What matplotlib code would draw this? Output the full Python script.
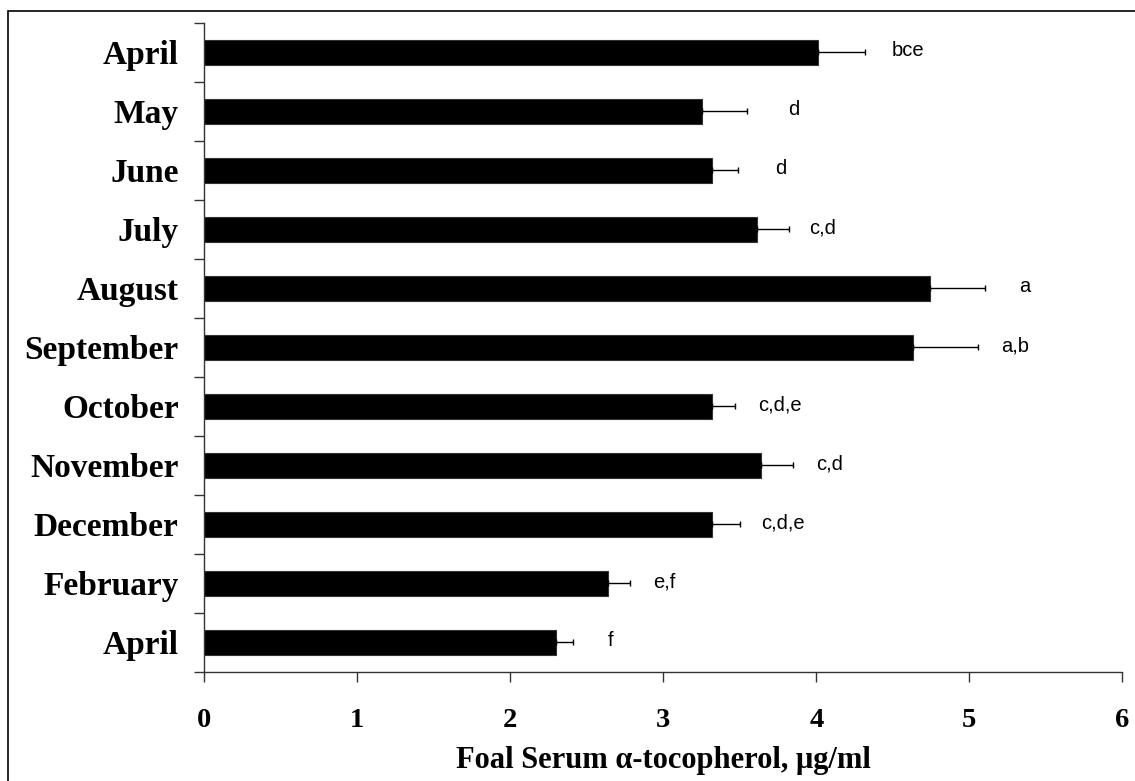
import matplotlib
matplotlib.use("Agg")
import matplotlib.pyplot as plt
from matplotlib.patches import Rectangle

months = ["April", "May", "June", "July", "August", "September", "October",
          "November", "December", "February", "April"]
values = [4.01, 3.25, 3.32, 3.61, 4.74, 4.63, 3.32, 3.64, 3.32, 2.64, 2.30]
errors = [0.31, 0.30, 0.17, 0.21, 0.36, 0.43, 0.15, 0.21, 0.18, 0.145, 0.11]
letters = ["bce", "d", "d", "c,d", "a", "a,b", "c,d,e", "c,d", "c,d,e", "e,f", "f"]
letter_x = [4.495, 3.817, 3.732, 3.954, 5.324, 5.205, 3.62, 3.997, 3.638, 2.935, 2.635]

fig = plt.figure(figsize=(11.35, 7.81), dpi=100)
ax = fig.add_axes([0.18, 0.1396, 0.9888 - 0.18, 0.9706 - 0.1396])

pos = list(range(len(months)))
ax.barh(pos, values, height=0.42, color="black", edgecolor="#333333", linewidth=0.8,
        zorder=2)
ax.errorbar(values, pos, xerr=[[0] * len(errors), errors], fmt="none",
            ecolor="black", elinewidth=1.0, capsize=2.5, capthick=1.0, zorder=3)
for y, x, t in zip(pos, letter_x, letters):
    ax.text(x, y - 0.03, t, ha="left", va="center", fontsize=14.5,
            family="Liberation Sans", color="black")

ax.set_xlim(0, 6)
ax.set_ylim(len(months) - 0.5, -0.5)
ax.set_xticks(range(0, 7))
ax.set_xticklabels([str(i) for i in range(0, 7)], fontsize=20.5,
                   family="Liberation Serif", fontweight="bold")
ax.tick_params(axis="x", direction="out", length=7.2, width=1, pad=19, color="#333333")

ax.set_yticks([i - 0.5 for i in range(len(months) + 1)])
ax.set_yticklabels([])
ax.tick_params(axis="y", which="major", direction="out", length=7.2, width=1,
               color="#333333")
ax.set_yticks(pos, minor=True)
ax.set_yticklabels(months, minor=True, fontsize=24, family="Liberation Serif",
                   fontweight="bold")
ax.tick_params(axis="y", which="minor", length=0, pad=18.5)

for s in ["top", "right"]:
    ax.spines[s].set_visible(False)
for s in ["left", "bottom"]:
    ax.spines[s].set_linewidth(1)
    ax.spines[s].set_color("#333333")

ax.set_xlabel("Foal Serum α-tocopherol, μg/ml", fontsize=22,
              family="Liberation Serif", fontweight="bold", labelpad=9)

fig.patches.append(Rectangle((8 / 1135, -0.5), 2.0, 1.5 - 11 / 781,
                             transform=fig.transFigure, fill=False,
                             edgecolor="black", linewidth=1.2))

fig.savefig("out.png", dpi=100)
